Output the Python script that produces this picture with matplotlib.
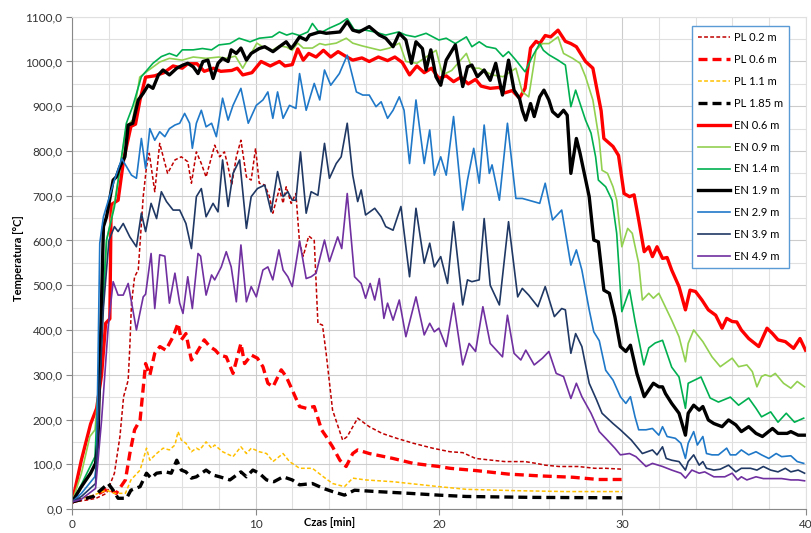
import matplotlib
matplotlib.use('Agg')
import matplotlib.pyplot as plt
from matplotlib.ticker import MultipleLocator, FuncFormatter

plt.rcParams['font.family'] = ['Lato', 'DejaVu Sans']

# --- PL curves (end at 30 min) ---
t_pl02 = [0, 0.8, 1.3, 1.87, 2.3, 2.6, 2.8, 3.05, 3.14, 3.23, 3.4, 3.6, 3.87, 4.05, 4.2, 4.5, 4.77,
          5.2, 5.6, 5.95, 6.3, 6.5, 6.77, 7.04, 7.3, 7.77, 8.04, 8.3, 8.5, 8.7, 8.95, 9.2, 9.5, 9.76,
          10.0, 10.2, 10.5, 10.76, 10.94, 11.3, 11.5, 11.67, 11.94, 12.2, 12.4, 12.6, 12.9, 13.2, 13.4,
          13.65, 13.85, 14.2, 14.75, 15.0, 15.57, 16.2, 16.9, 17.7, 18.6, 19.65, 20.6, 21.3, 22.0,
          22.9, 23.6, 24.7, 25.3, 25.8, 26.55, 27.6, 28.5, 29.1, 30.0]
T_pl02 = [16, 20, 24, 35, 80, 162, 251, 288, 363, 459, 519, 534, 698, 765, 795, 709, 817,
          750, 780, 787, 776, 728, 798, 772, 742, 813, 787, 798, 765, 724, 787, 824, 742, 735,
          806, 728, 724, 698, 661, 716, 683, 720, 683, 705, 594, 565, 610, 600, 415,
          411, 348, 221, 154, 162, 203, 184, 169, 158, 147, 136, 128, 126, 113,
          109, 106, 106, 102, 98, 95, 95, 91, 91, 89]

t_pl06 = [0, 1.15, 1.96, 2.4, 2.9, 3.14, 3.4, 3.7, 4.0, 4.23, 4.5, 4.78, 5.1, 5.5, 5.77, 5.95, 6.2,
          6.5, 6.77, 7.2, 7.5, 7.8, 8.04, 8.4, 8.77, 9.2, 9.4, 9.77, 10.1, 10.4, 10.67, 10.95, 11.4,
          11.67, 12.0, 12.4, 12.77, 13.2, 13.6, 13.85, 14.2, 14.6, 14.94, 15.3, 15.57, 16.2, 17.5,
          18.6, 20.0, 20.6, 22.0, 23.8, 25.5, 27.3, 28.7, 30.0]
T_pl06 = [16, 28, 46, 35, 65, 124, 177, 199, 325, 299, 348, 363, 355, 385, 415, 378, 392,
          333, 348, 378, 363, 355, 344, 340, 303, 370, 325, 344, 337, 318, 281, 273, 311,
          296, 266, 229, 225, 229, 177, 162, 139, 109, 95, 124, 132, 124, 113,
          102, 95, 91, 86, 78, 74, 71, 66, 66]

t_pl11 = [0, 1.15, 1.87, 2.3, 2.9, 3.2, 3.7, 4.05, 4.23, 4.6, 4.96, 5.3, 5.6, 5.77, 5.95, 6.2, 6.5,
          6.77, 6.95, 7.3, 7.6, 7.77, 8.2, 8.77, 9.2, 9.5, 9.77, 10.2, 10.6, 10.95, 11.5, 11.85,
          12.4, 13.1, 13.7, 14.2, 14.85, 15.3, 16.0, 17.5, 20.0, 21.5, 24.2, 26.9, 30.0]
T_pl11 = [16, 31, 42, 35, 35, 65, 87, 136, 109, 124, 136, 132, 143, 173, 154, 147, 128,
          136, 132, 150, 136, 143, 128, 117, 139, 124, 136, 128, 124, 106, 124, 106,
          91, 91, 72, 57, 50, 69, 65, 61, 50, 44, 41, 39, 39]

t_pl185 = [0, 1.15, 1.96, 2.23, 2.5, 2.96, 3.2, 3.7, 4.05, 4.3, 4.6, 5.1, 5.4, 5.7, 5.95, 6.2, 6.5,
           6.77, 7.3, 7.67, 8.04, 8.6, 9.2, 9.5, 9.85, 10.2, 10.6, 11.0, 11.5, 12.0, 12.4, 13.1,
           13.7, 14.2, 14.85, 15.4, 16.6, 18.4, 20.0, 21.5, 25.1, 30.0]
T_pl185 = [16, 28, 57, 42, 24, 24, 42, 50, 80, 69, 80, 83, 80, 109, 87, 83, 69,
           72, 87, 76, 72, 65, 83, 72, 87, 80, 65, 61, 72, 65, 54, 57,
           46, 39, 31, 42, 39, 35, 31, 28, 26, 25]

# --- EN curves (end at 40 min) ---
t_en06 = [0, 0.5, 1.0, 1.33, 1.6, 1.82, 2.05, 2.12, 2.5, 2.8, 3.2, 3.45, 3.7, 4.0, 4.5, 5.0, 5.5,
          6.0, 6.3, 6.8, 7.2, 7.7, 8.1, 8.7, 9.0, 9.3, 9.8, 10.3, 10.8, 11.3, 11.6, 12.0, 12.3,
          12.6, 12.9, 13.3, 13.7, 14.1, 14.5, 14.9, 15.3, 15.8, 16.2, 16.7, 17.2, 17.6, 18.0,
          18.4, 18.8, 19.2, 19.6, 20.0, 20.4, 20.8, 21.2, 21.6, 22.0, 22.3, 22.8, 23.3, 23.6,
          24.0, 24.4, 24.7, 25.0, 25.3, 25.5, 25.8, 26.1, 26.5, 26.9, 27.2, 27.5, 28.0, 28.4,
          28.65, 28.85, 29.0, 29.5, 29.8, 30.1, 30.4, 30.65, 30.9, 31.2, 31.45, 31.65, 31.9,
          32.2, 32.45, 32.7, 33.1, 33.45, 33.7, 34.0, 34.35, 34.7, 35.1, 35.45, 35.7, 36.0,
          36.25, 36.5, 36.9, 37.45, 37.9, 38.2, 38.5, 38.9, 39.35, 39.7, 40.0]
T_en06 = [16, 110, 190, 225, 300, 415, 425, 680, 690, 780, 855, 860, 915, 965, 968, 975, 990,
          985, 995, 995, 978, 985, 978, 980, 985, 970, 975, 1000, 990, 1000, 990, 993, 1028,
          1003, 1018, 1010, 1025, 1010, 1022, 1012, 1003, 1008, 1000, 1010, 1002, 1010, 998,
          970, 990, 975, 985, 962, 968, 955, 965, 950, 960, 945, 940, 942, 930,
          935, 918, 940, 1030, 1045, 1040, 1058, 1055, 1070, 1045, 1040, 1033, 1000, 985,
          932, 890, 828, 810, 790, 705, 698, 702, 646, 575, 586, 564, 586,
          560, 562, 534, 497, 445, 489, 486, 467, 445, 433, 404, 426, 419,
          418, 400, 381, 363, 404, 392, 378, 374, 359, 381, 355]

t_en09 = [0, 0.5, 0.96, 1.24, 1.5, 1.87, 2.3, 2.95, 3.3, 3.68, 4.05, 4.78, 5.3, 6.0, 6.6, 7.3, 8.0,
          8.4, 8.9, 9.3, 10.07, 10.5, 10.9, 11.3, 11.7, 12.0, 12.3, 12.6, 13.1, 13.5, 13.8, 14.4,
          14.95, 15.3, 15.8, 16.3, 16.8, 17.3, 17.85, 18.2, 18.8, 19.3, 19.85, 20.2, 20.7, 21.5,
          21.8, 22.2, 22.9, 23.5, 24.2, 24.55, 24.9, 25.3, 25.65, 26.0, 26.5, 26.8, 27.3, 27.7,
          28.0, 28.4, 28.75, 28.9, 29.2, 29.5, 29.7, 29.98, 30.3, 30.55, 30.9, 31.1, 31.45, 31.7,
          32.0, 32.7, 33.1, 33.45, 33.6, 33.9, 34.4, 34.9, 35.35, 36.0, 36.35, 36.8, 37.1, 37.35,
          37.6, 37.8, 38.1, 38.35, 38.8, 39.2, 39.55, 39.95]
T_en09 = [16, 80, 162, 177, 300, 600, 683, 854, 870, 965, 977, 999, 1007, 1003, 1010, 1007, 1010,
          1007, 1012, 985, 1041, 1030, 1025, 1035, 1032, 1025, 1041, 1030, 1030, 1040, 1037, 1041,
          1052, 1041, 1035, 1030, 1025, 1030, 1041, 1000, 996, 1010, 1025, 970, 980, 1018,
          985, 985, 970, 966, 985, 932, 921, 1025, 1040, 1040, 1055, 1018, 1007, 996,
          966, 914, 824, 757, 750, 720, 690, 586, 627, 616, 549, 467, 482, 471,
          482, 422, 385, 329, 370, 400, 374, 340, 318, 337, 318, 322, 307, 273,
          296, 300, 296, 303, 281, 270, 285, 273]

t_en14 = [0, 0.5, 1.24, 1.5, 1.87, 2.3, 2.95, 3.3, 3.77, 4.4, 4.86, 5.3, 5.7, 6.0, 6.6, 7.1, 7.6,
          8.0, 8.6, 9.1, 9.7, 10.2, 10.9, 11.3, 11.7, 12.0, 12.4, 12.85, 13.1, 13.5, 14.0, 14.6,
          15.0, 15.4, 16.0, 16.5, 17.1, 17.8, 18.2, 18.7, 19.3, 20.0, 20.4, 20.9, 21.5, 21.8,
          22.2, 22.6, 23.1, 23.5, 23.8, 24.2, 24.7, 25.1, 25.5, 25.7, 26.0, 26.5, 26.9, 27.2,
          27.46, 28.0, 28.3, 28.55, 28.7, 29.1, 29.45, 29.7, 29.98, 30.4, 30.7, 31.18, 31.45,
          31.8, 32.2, 32.7, 33.1, 33.45, 33.6, 33.8, 34.3, 34.8, 35.25, 35.9, 36.35, 36.9, 37.3,
          37.6, 38.1, 38.5, 38.95, 39.4, 39.9]
T_en14 = [16, 55, 117, 350, 601, 675, 862, 900, 966, 996, 1011, 1018, 1012, 1026, 1026, 1029, 1026,
          1037, 1040, 1052, 1044, 1052, 1055, 1066, 1059, 1063, 1058, 1066, 1085, 1063, 1074, 1085,
          1096, 1070, 1070, 1066, 1059, 1066, 1059, 1055, 1063, 1048, 1052, 1040, 1055, 1033,
          1044, 1033, 1029, 1011, 1022, 1003, 977, 1011, 1040, 1025, 1015, 1003, 992, 899,
          936, 869, 840, 787, 735, 720, 690, 616, 441, 490, 420, 322, 360,
          371, 377, 317, 295, 225, 281, 285, 295, 248, 239, 250, 232, 248, 225,
          206, 217, 194, 214, 194, 203]

t_en19 = [0, 0.5, 1.0, 1.27, 1.4, 1.7, 1.87, 2.23, 2.4, 2.6, 2.87, 3.05, 3.3, 3.6, 3.87, 4.14, 4.4,
          4.7, 4.95, 5.3, 5.7, 6.04, 6.3, 6.6, 6.86, 7.13, 7.4, 7.68, 7.95, 8.2, 8.5, 8.67, 8.95,
          9.2, 9.5, 9.76, 10.2, 10.5, 10.95, 11.3, 11.67, 11.94, 12.1, 12.4, 12.76, 12.94, 13.5,
          13.85, 14.6, 15.0, 15.3, 15.65, 16.2, 16.75, 17.1, 17.5, 17.84, 18.2, 18.5, 18.75,
          19.1, 19.3, 19.56, 19.84, 20.1, 20.4, 20.9, 21.3, 21.56, 21.8, 22.1, 22.47, 22.8,
          23.1, 23.47, 23.8, 24.1, 24.4, 24.55, 24.74, 25.0, 25.2, 25.5, 25.73, 26.0, 26.2,
          26.5, 26.8, 27.0, 27.2, 27.5, 27.7, 28.2, 28.45, 28.7, 29.0, 29.3, 29.6, 29.9, 30.2,
          30.45, 30.8, 31.2, 31.45, 31.7, 32.0, 32.2, 32.36, 32.7, 33.1, 33.45, 33.6, 33.9,
          34.2, 34.4, 34.7, 35.0, 35.45, 35.8, 36.2, 36.5, 36.9, 37.3, 37.65, 38.2, 38.5,
          39.0, 39.2, 39.6, 39.95]
T_en19 = [16, 50, 80, 102, 150, 631, 653, 735, 742, 765, 787, 858, 862, 914, 929, 947, 940,
          970, 981, 970, 985, 992, 996, 988, 973, 1000, 1003, 962, 996, 1007, 1000, 1026, 1018,
          1030, 1003, 1018, 1029, 1033, 1022, 1033, 1044, 1029, 1037, 1055, 1048, 1059, 1066,
          1063, 1066, 1089, 1070, 1066, 1078, 1059, 1052, 1033, 1063, 1048, 996, 1044,
          1029, 981, 1026, 966, 947, 1003, 1037, 944, 988, 992, 966, 981, 958,
          996, 925, 1003, 936, 917, 891, 869, 906, 877, 921, 936, 914, 888,
          877, 891, 880, 750, 828, 795, 698, 601, 597, 489, 482, 430, 363, 352,
          366, 303, 251, 266, 281, 273, 273, 258, 236, 214, 165, 214, 232,
          221, 229, 199, 191, 184, 199, 188, 173, 184, 169, 162, 180, 169,
          169, 173, 165, 165]

t_en29 = [0, 0.5, 1.23, 1.32, 1.5, 1.7, 2.05, 2.3, 2.7, 2.96, 3.23, 3.5, 3.77, 4.0, 4.23, 4.5, 4.77,
          5.05, 5.3, 5.6, 5.86, 6.13, 6.4, 6.55, 6.77, 7.04, 7.3, 7.6, 7.86, 8.2, 8.5, 8.77, 9.2,
          9.6, 10.04, 10.4, 10.67, 10.94, 11.2, 11.5, 11.85, 12.2, 12.4, 12.76, 13.2, 13.5, 13.76,
          14.1, 14.57, 15.0, 15.5, 15.85, 16.2, 16.57, 16.85, 17.2, 17.5, 17.84, 18.1, 18.4,
          18.75, 19.2, 19.5, 19.75, 20.1, 20.4, 20.8, 21.3, 21.56, 21.9, 22.2, 22.47, 22.75,
          22.9, 23.3, 23.74, 24.2, 24.55, 24.9, 25.5, 25.8, 26.2, 26.7, 27.2, 27.5, 27.8, 28.2,
          28.45, 28.75, 29.1, 29.5, 29.9, 30.2, 30.45, 30.7, 30.9, 31.3, 31.65, 32.0, 32.2,
          32.45, 32.9, 33.2, 33.45, 33.6, 33.9, 34.1, 34.4, 34.6, 34.9, 35.25, 35.7, 35.9,
          36.2, 36.5, 36.9, 37.3, 37.6, 38.0, 38.4, 38.7, 39.2, 39.55, 39.9]
T_en29 = [16, 35, 72, 100, 594, 653, 701, 735, 783, 765, 746, 739, 828, 761, 850, 824, 843,
          832, 850, 858, 862, 884, 862, 806, 862, 891, 854, 862, 832, 918, 869, 902, 940,
          862, 902, 914, 932, 873, 932, 873, 902, 895, 973, 891, 951, 914, 981,
          947, 973, 1014, 932, 925, 925, 899, 910, 873, 891, 921, 891, 772,
          914, 772, 847, 746, 787, 746, 877, 668, 735, 806, 728, 858, 750,
          769, 690, 862, 694, 694, 690, 683, 728, 646, 668, 545, 579, 534, 445,
          396, 376, 310, 288, 251, 236, 251, 206, 177, 177, 180, 165, 184,
          162, 158, 147, 113, 147, 173, 143, 162, 124, 121, 121, 136, 121,
          121, 132, 121, 128, 121, 113, 124, 117, 119, 106, 102]

t_en39 = [0, 0.5, 1.27, 1.7, 2.0, 2.3, 2.5, 2.78, 3.14, 3.5, 3.77, 4.0, 4.3, 4.6, 4.86, 5.14, 5.5,
          5.86, 6.2, 6.5, 6.77, 7.04, 7.3, 7.68, 7.95, 8.2, 8.5, 8.77, 9.13, 9.5, 9.76, 10.1,
          10.5, 10.85, 11.2, 11.5, 11.76, 12.0, 12.2, 12.45, 12.76, 13.03, 13.4, 13.76, 14.03,
          14.4, 14.67, 15.0, 15.3, 15.57, 15.76, 16.0, 16.5, 16.85, 17.1, 17.5, 17.93, 18.4,
          18.75, 19.2, 19.5, 19.75, 20.1, 20.47, 20.8, 21.3, 21.56, 21.8, 22.2, 22.47, 22.8,
          23.3, 23.8, 24.3, 24.55, 24.9, 25.4, 25.8, 26.3, 26.7, 26.9, 27.2, 27.46, 27.8, 28.2,
          28.6, 28.9, 29.5, 29.9, 30.5, 31.1, 31.65, 31.9, 32.2, 32.4, 32.7, 33.1, 33.45, 33.6,
          33.9, 34.2, 34.4, 34.6, 35.0, 35.35, 35.8, 36.2, 36.5, 37.0, 37.35, 37.7, 38.1, 38.5,
          38.9, 39.2, 39.6, 39.95]
T_en39 = [16, 28, 57, 450, 600, 631, 620, 638, 608, 586, 661, 620, 683, 649, 709, 687, 668,
          668, 638, 582, 698, 716, 653, 683, 664, 780, 676, 750, 780, 627, 698, 716,
          724, 664, 754, 698, 709, 690, 690, 798, 661, 709, 701, 817, 739,
          772, 787, 862, 746, 687, 713, 657, 672, 653, 631, 623, 676, 519,
          672, 549, 594, 541, 564, 504, 642, 456, 512, 508, 512, 649, 500,
          456, 642, 474, 493, 478, 452, 497, 430, 448, 445, 348, 392, 363, 281,
          244, 214, 191, 177, 154, 124, 132, 121, 139, 113, 109, 106, 87, 106,
          121, 98, 106, 91, 87, 89, 98, 83, 91, 91, 87, 95, 87, 83,
          91, 83, 87, 80]

t_en49 = [0, 0.5, 1.27, 1.6, 1.96, 2.23, 2.5, 2.78, 3.05, 3.5, 3.87, 4.0, 4.3, 4.5, 4.77, 5.05,
          5.3, 5.6, 5.86, 6.04, 6.3, 6.55, 6.86, 7.0, 7.3, 7.6, 7.77, 8.13, 8.4, 8.67, 8.95, 9.2,
          9.5, 9.76, 10.04, 10.4, 10.67, 10.94, 11.27, 11.5, 11.76, 12.0, 12.4, 12.76, 13.03,
          13.3, 13.76, 14.03, 14.48, 14.7, 15.0, 15.4, 15.76, 16.0, 16.25, 16.5, 16.75, 17.0,
          17.2, 17.5, 17.84, 18.2, 18.75, 19.2, 19.5, 19.75, 20.0, 20.4, 20.8, 21.3, 21.65,
          22.0, 22.4, 22.8, 23.47, 23.74, 24.1, 24.47, 24.74, 25.2, 25.65, 26.0, 26.4, 26.8,
          27.2, 27.5, 27.8, 28.3, 28.75, 29.1, 29.6, 29.9, 30.4, 30.75, 31.3, 31.65, 32.2, 32.7,
          33.2, 33.45, 33.8, 34.2, 34.5, 35.0, 35.6, 36.0, 36.3, 36.5, 36.8, 37.3, 37.7, 38.2,
          38.7, 39.2, 39.6, 39.95]
T_en49 = [16, 22, 46, 199, 407, 508, 478, 478, 504, 400, 474, 480, 571, 448, 568, 565,
          460, 527, 460, 437, 519, 448, 571, 565, 478, 523, 512, 541, 575, 541, 463, 590,
          463, 497, 474, 534, 541, 512, 579, 534, 519, 497, 599, 515, 519,
          527, 601, 553, 608, 582, 705, 519, 504, 471, 504, 467, 515, 426,
          460, 422, 467, 385, 474, 389, 415, 396, 404, 363, 460, 322, 370,
          352, 452, 370, 340, 433, 348, 333, 355, 322, 337, 352, 303, 296,
          247, 281, 251, 214, 173, 158, 136, 121, 124, 117, 95, 102, 95, 87,
          80, 69, 87, 80, 83, 72, 72, 80, 65, 72, 65, 72, 68, 68,
          68, 65, 65, 63]

labels = ['PL 0.2 m', 'PL 0.6 m', 'PL 1.1 m', 'PL 1.85 m', 'EN 0.6 m', 'EN 0.9 m',
          'EN 1.4 m', 'EN 1.9 m', 'EN 2.9 m', 'EN 3.9 m', 'EN 4.9 m']
times = [t_pl02, t_pl06, t_pl11, t_pl185, t_en06, t_en09, t_en14, t_en19, t_en29, t_en39, t_en49]
temps = [T_pl02, T_pl06, T_pl11, T_pl185, T_en06, T_en09, T_en14, T_en19, T_en29, T_en39, T_en49]

colors = ['#C00000', '#FF0000', '#FFC000', '#000000', '#FF0000', '#92D050',
          '#00B050', '#000000', '#1F78C8', '#1F3864', '#7030A0']
widths = [1.1, 2.4, 1.1, 2.4, 2.4, 1.2, 1.2, 2.4, 1.2, 1.2, 1.2]
dashes = [(0, (2.5, 1.5)), (0, (2.7, 1.5)), (0, (2.5, 1.5)), (0, (2.7, 1.5)),
          '-', '-', '-', '-', '-', '-', '-']

fig = plt.figure(figsize=(8.12, 5.33), dpi=100)
ax = fig.add_axes([0.089, 0.045, 0.903, 0.9236])

for t, T, lab, c, lw, ls in zip(times, temps, labels, colors, widths, dashes):
    ax.plot(t, T, color=c, lw=lw, linestyle=ls, label=lab, solid_joinstyle='round')

ax.set_xlim(0, 40)
ax.set_ylim(0, 1100)
ax.xaxis.set_major_locator(MultipleLocator(10))
ax.xaxis.set_minor_locator(MultipleLocator(2))
ax.yaxis.set_major_locator(MultipleLocator(100))
ax.yaxis.set_minor_locator(MultipleLocator(50))
ax.yaxis.set_major_formatter(FuncFormatter(lambda v, p: f'{v:.1f}'.replace('.', ',')))

ax.grid(which='major', color='#CCCCCC', lw=0.8)
ax.grid(which='minor', color='#E0E0E0', lw=0.8)
ax.set_axisbelow(True)
for s in ['top', 'right']:
    ax.spines[s].set_color('#E0E0E0')
for s in ['left', 'bottom']:
    ax.spines[s].set_color('#888888')
ax.tick_params(which='major', length=4, color='#888888', labelsize=8.5, labelcolor='#333333', pad=3)
ax.tick_params(which='minor', length=0)

ax.text(0.351, -0.028, 'Czas [min]', transform=ax.transAxes, ha='center', va='center',
        fontsize=8, fontweight='bold')
ax.text(-0.074, 0.51, 'Temperatura [°C]', transform=ax.transAxes, ha='center', va='center',
        rotation=90, fontsize=8, fontweight='bold')

leg = ax.legend(loc='upper right', bbox_to_anchor=(789 / 812, 1 - 26 / 533),
                bbox_transform=fig.transFigure, borderaxespad=0, fontsize=8,
                handlelength=2.9, labelspacing=0.98, fancybox=False, framealpha=1,
                borderpad=0.55, handletextpad=0.35)
leg.get_frame().set_edgecolor('#5B9BD5')
leg.get_frame().set_linewidth(1.0)

fig.savefig('out.png', dpi=100)
